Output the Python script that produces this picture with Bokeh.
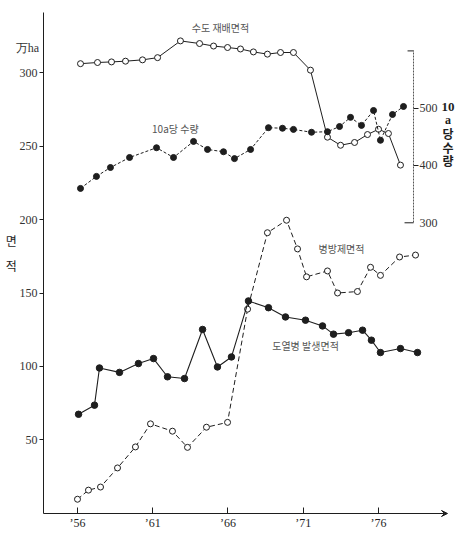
from bokeh.plotting import figure
from bokeh.models import Range1d, FixedTicker, Label, Arrow, VeeHead, LinearAxis
from bokeh.embed import file_html
from bokeh.resources import INLINE

# ---- data (x in years, as drawn) ----
rice_years = [1956.2, 1957.33, 1958.26, 1959.19, 1960.32, 1961.32, 1962.84, 1964.11, 1965.04,
              1965.97, 1966.83, 1967.69, 1968.62, 1969.49, 1970.35, 1971.48, 1972.61, 1973.48,
              1974.41, 1975.27, 1976.0, 1976.66, 1977.46]
rice_area = [306, 306.8, 307.2, 307.7, 308.6, 310.1, 321.5, 319.7, 318, 317, 316, 314, 312.5,
             313.6, 313.6, 301.6, 256, 250.5, 252.4, 257.8, 261.4, 258.5, 237]

yield_years = [1956.2, 1957.26, 1958.19, 1959.46, 1961.25, 1962.38, 1963.71, 1964.64, 1965.7,
               1966.43, 1967.5, 1968.69, 1969.62, 1970.35, 1971.55, 1972.61, 1973.41, 1974.14,
               1974.87, 1975.67, 1976.13, 1976.93, 1977.66]
yield_10a = [360, 381, 396.5, 414, 431, 414, 442, 428, 424, 412, 428, 466, 465, 463, 458, 459,
             468, 484, 470, 496, 444, 489, 503]

blast_years = [1956.07, 1957.13, 1957.46, 1958.79, 1960.05, 1961.05, 1961.98, 1963.11, 1964.31,
               1965.3, 1966.23, 1967.36, 1968.69, 1969.82, 1971.15, 1972.28, 1973.01, 1974.01,
               1974.94, 1975.53, 1976.13, 1977.46, 1978.59]
blast_area = [67.5, 73.7, 99, 96, 102, 105.4, 93, 91.8, 125.2, 99.7, 106.5, 144.6, 140, 133.7,
              131.5, 127.6, 122, 123, 124.7, 117.9, 109.5, 112.2, 109.5]

control_years = [1956.0, 1956.73, 1957.53, 1958.66, 1959.85, 1960.85, 1962.31, 1963.31, 1964.57,
                 1965.97, 1967.3, 1968.62, 1969.89, 1970.62, 1971.22, 1972.61, 1973.28, 1974.6,
                 1975.47, 1976.13, 1977.4, 1978.46]
control_area = [9.7, 15.9, 18, 31, 45.3, 61, 56, 45, 58.7, 62, 139, 191, 199.5, 180, 161, 165,
                150, 151, 167.5, 162, 174.5, 175.8]

x_ticks = [1956, 1961, 1966, 1971, 1976]
x_tick_labels = ["’56", "’61", "’66", "’71", "’76"]
y_ticks = [50, 100, 150, 200, 250, 300]
yield_ticks = [500, 400, 300]
yield_top = 600

SERIF = "Liberation Serif"
KR = "Noto Sans CJK KR"
INK = "#1e1e1e"

X_LEFT, X_RIGHT = 1953.741, 1980.585
Y_TOP = 340.8

p = figure(width=457, height=534, output_backend="svg", toolbar_location=None,
           x_range=Range1d(1950.884, 1981.249), y_range=Range1d(-14.286, 348.98),
           x_axis_location=None, y_axis_location=None,
           min_border=0, min_border_left=0, min_border_right=0,
           min_border_top=0, min_border_bottom=0)
p.extra_y_ranges = {"yield": Range1d(-244.0, 687.96)}
p.grid.visible = False
p.outline_line_color = None
p.background_fill_color = "white"

# x axis (fixed at value 0)
xax = LinearAxis(fixed_location=0, bounds=(X_LEFT, X_RIGHT - 0.3))
xax.ticker = FixedTicker(ticks=x_ticks)
xax.major_label_overrides = {t: l for t, l in zip(x_ticks, x_tick_labels)}
xax.minor_tick_line_color = None
xax.major_tick_in = 6
xax.major_tick_out = 0
xax.major_label_standoff = 3
xax.major_label_text_font = SERIF
xax.major_label_text_font_size = "12px"
xax.major_label_text_color = INK
xax.axis_line_color = INK
xax.major_tick_line_color = INK
p.add_layout(xax, "below")

# y axis (fixed at left edge of plotting area)
yax = LinearAxis(fixed_location=X_LEFT, bounds=(0, Y_TOP))
yax.ticker = FixedTicker(ticks=y_ticks)
yax.minor_tick_line_color = None
yax.major_tick_in = 0
yax.major_tick_out = 4
yax.major_label_standoff = 2
yax.major_label_text_font = SERIF
yax.major_label_text_font_size = "12px"
yax.major_label_text_color = "#333333"
yax.axis_line_color = INK
yax.major_tick_line_color = INK
p.add_layout(yax, "left")

p.add_layout(Arrow(end=VeeHead(size=6, line_color=INK, fill_color=INK, line_width=1),
                   x_start=X_RIGHT - 0.5, y_start=0, x_end=X_RIGHT, y_end=0,
                   line_color=INK, line_width=1))

# ---- series ----
p.line(rice_years, rice_area, line_color=INK, line_width=1)
p.scatter(rice_years, rice_area, size=6, marker="circle", fill_color="white",
          line_color=INK, line_width=1)

p.line(yield_years, yield_10a, line_color=INK, line_width=1, line_dash="3 2",
       y_range_name="yield")
p.scatter(yield_years, yield_10a, size=6, marker="circle", fill_color=INK,
          line_color=INK, y_range_name="yield")

p.line(control_years, control_area, line_color=INK, line_width=1, line_dash="5 3")
p.scatter(control_years, control_area, size=6, marker="circle", fill_color="white",
          line_color=INK, line_width=1)

p.line(blast_years, blast_area, line_color=INK, line_width=1.1)
p.scatter(blast_years, blast_area, size=6.5, marker="circle", fill_color=INK,
          line_color=INK)

# ---- inner right axis (10a yield) ----
ax_x = 1978.33
yax2 = LinearAxis(y_range_name="yield", fixed_location=ax_x, bounds=(yield_ticks[-1], yield_top))
yax2.ticker = FixedTicker(ticks=yield_ticks[:2])
yax2.minor_tick_line_color = None
yax2.major_tick_in = 0
yax2.major_tick_out = 5
yax2.major_label_standoff = 1
yax2.major_label_text_font = SERIF
yax2.major_label_text_font_size = "12px"
yax2.major_label_text_color = "#333333"
yax2.axis_line_color = "#555555"
yax2.axis_line_dash = "2 1"
yax2.major_tick_line_color = INK
p.add_layout(yax2, "right")

p.segment(x0=[ax_x - 0.4, ax_x - 0.6], y0=[yield_top, yield_ticks[-1]],
          x1=[ax_x, ax_x], y1=[yield_top, yield_ticks[-1]], line_color=INK,
          line_width=1, y_range_name="yield")
p.add_layout(Label(x=ax_x + 0.4, y=yield_ticks[-1], y_range_name="yield",
                   text=str(yield_ticks[-1]), text_font=SERIF, text_font_size="12px",
                   text_color="#333333", text_align="left", text_baseline="middle"))

unit_parts = [("10", 502), ("a", 479), ("당", 456), ("수", 432), ("량", 408)]
for txt, yv in unit_parts:
    p.add_layout(Label(x=1980.62, y=yv, y_range_name="yield", text=txt,
                       text_font=SERIF if txt in ("10", "a") else KR,
                       text_font_style="bold", text_font_size="13px" if txt == "10" else "12px",
                       text_color=INK, text_align="center", text_baseline="middle"))

# ---- left axis labels ----
p.add_layout(Label(x=1952.68, y=317, text="万ha", text_font=SERIF, text_font_size="12px",
                   text_color="#333333", text_align="center", text_baseline="middle"))
p.add_layout(Label(x=1951.6, y=185.7, text="면", text_font=KR, text_font_size="12px",
                   text_color=INK, text_align="center", text_baseline="middle"))
p.add_layout(Label(x=1951.6, y=168.7, text="적", text_font=KR, text_font_size="12px",
                   text_color=INK, text_align="center", text_baseline="middle"))

# ---- series labels ----
series_labels = [("수도 재배면적", 1965.5, 330.6), ("10a당 수량", 1962.5, 261.9),
                 ("병방제면적", 1973.54, 180.3), ("도열병 발생면적", 1971.15, 114.3)]
for txt, xv, yv in series_labels:
    p.add_layout(Label(x=xv, y=yv, text=txt, text_font=KR, text_font_size="10px",
                       text_color="#555555", text_align="center", text_baseline="middle"))

open("out.html", "w").write(file_html(p, INLINE))
